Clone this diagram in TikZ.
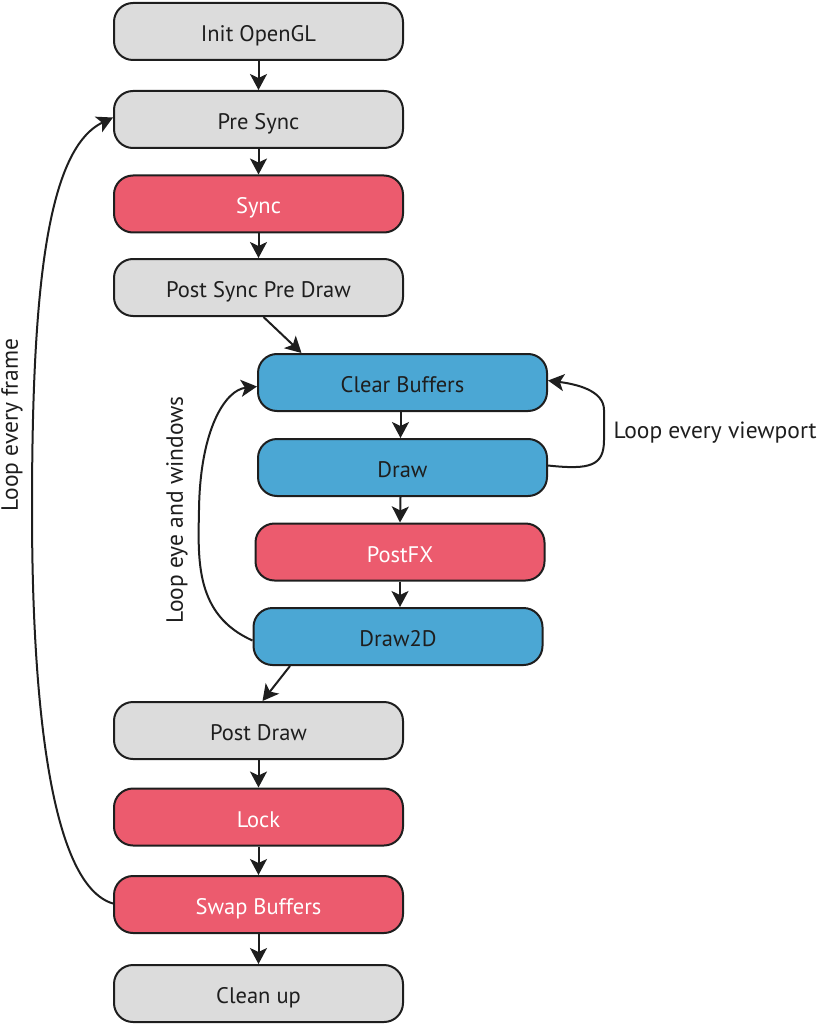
\documentclass[tikz,border=0pt]{standalone}
\usepackage{fontspec}
\setmainfont{PT Sans}
\usetikzlibrary{arrows.meta}
\definecolor{boxgray}{HTML}{DCDCDC}
\definecolor{boxred}{HTML}{EC5B6E}
\definecolor{boxblue}{HTML}{4BA7D4}
\definecolor{linec}{HTML}{1E1E1E}
\tikzset{
  stepbox/.style={draw=linec, line width=2pt, rounded corners=19pt, minimum width=289pt, minimum height=57pt, inner sep=0pt, font=\fontsize{22.5}{26}\selectfont, text=linec, text height=20pt, text depth=0pt},
  graybox/.style={stepbox, fill=boxgray},
  redbox/.style={stepbox, fill=boxred, text=white},
  bluebox/.style={stepbox, fill=boxblue},
  flowarrow/.style={draw=linec, line width=2pt, -{Stealth[length=16pt,width=17pt,inset=4pt]}},
  lbl/.style={font=\fontsize{23.5}{27}\selectfont, text=linec}
}
\begin{document}
\begin{tikzpicture}[x=1pt,y=-1pt]
\useasboundingbox (0,0) rectangle (822,1024);
\node[graybox] (init) at (258.5,31.5) {Init OpenGL};
\node[graybox] (pre) at (258.5,119.5) {Pre Sync};
\node[redbox] (sync) at (258.5,204) {Sync};
\node[graybox] (post) at (258.5,287.5) {Post Sync Pre Draw};
\node[bluebox] (clear) at (402.5,382.5) {Clear Buffers};
\node[bluebox] (draw) at (402.5,467.5) {Draw};
\node[redbox] (postfx) at (400,552) {PostFX};
\node[bluebox] (draw2d) at (398,636.5) {Draw2D};
\node[graybox] (postdraw) at (258.5,730.5) {Post Draw};
\node[redbox] (lock) at (258.5,817) {Lock};
\node[redbox] (swap) at (258.5,904.5) {Swap Buffers};
\node[graybox] (clean) at (258.5,993.5) {Clean up};

\draw[flowarrow] (init.south) -- (pre.north);
\draw[flowarrow] (pre.south) -- (sync.north);
\draw[flowarrow] (sync.south) -- (post.north);
\draw[flowarrow] ([xshift=5pt]post.south) -- ([xshift=-101pt]clear.north);
\draw[flowarrow] ([xshift=-2pt]clear.south) -- ([xshift=-2pt]draw.north);
\draw[flowarrow] ([xshift=-2pt]draw.south) -- ([xshift=0pt]postfx.north);
\draw[flowarrow] (postfx.south) -- ([xshift=2pt]draw2d.north);
\draw[flowarrow] ([xshift=-108pt]draw2d.south) -- ([xshift=4pt]postdraw.north);
\draw[flowarrow] (postdraw.south) -- (lock.north);
\draw[flowarrow] (lock.south) -- (swap.north);
\draw[flowarrow] (swap.south) -- (clean.north);

% right loop
\draw[flowarrow] ([yshift=2pt]draw.east) .. controls (590,470) and (604,466) .. (604,440)
  -- (604,410) .. controls (604,390) and (575,384) .. ([yshift=2pt]clear.east);
\node[lbl, anchor=west] (lvp) at (610,433) {Loop every viewport};

% inner left loop
\draw[flowarrow] ([yshift=-4pt]draw2d.west) .. controls (195,615) and (198,560) .. (199,510)
  .. controls (200,430) and (225,390) .. ([yshift=-4pt]clear.west);
\node[lbl, rotate=90] (lew) at (177,510) {Loop eye and windows};

% outer left loop
\draw[flowarrow] ([yshift=1pt]swap.west) .. controls (50,885) and (32,700) .. (32,510)
  .. controls (32,300) and (45,150) .. ([yshift=2pt]pre.west);
\node[lbl, rotate=90] (lef) at (12,425) {Loop every frame};
\end{tikzpicture}
\end{document}
